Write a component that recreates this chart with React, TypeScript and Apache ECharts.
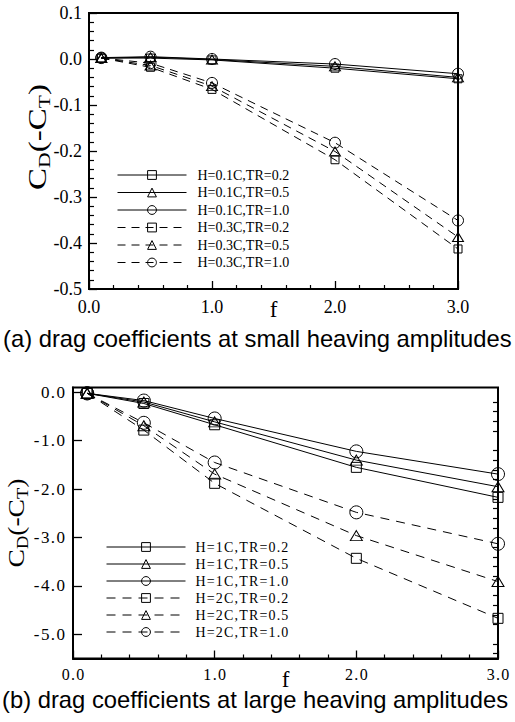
import React, { useEffect, useRef } from 'react';
import * as echarts from 'echarts';

// ---- data ----
const fValues = [0.1, 0.5, 1.0, 2.0, 3.0];

// (a) small heaving amplitudes
const namesA = ['H=0.1C,TR=0.2', 'H=0.1C,TR=0.5', 'H=0.1C,TR=1.0', 'H=0.3C,TR=0.2', 'H=0.3C,TR=0.5', 'H=0.3C,TR=1.0'];
const aH01TR02 = [0.002, 0.002, -0.002, -0.020, -0.043];
const aH01TR05 = [0.002, 0.004, -0.001, -0.016, -0.040];
const aH01TR10 = [0.003, 0.005, 0.000, -0.011, -0.032];
const aH03TR02 = [0.002, -0.018, -0.066, -0.219, -0.413];
const aH03TR05 = [0.002, -0.014, -0.059, -0.201, -0.387];
const aH03TR10 = [0.002, -0.009, -0.052, -0.182, -0.351];

// (b) large heaving amplitudes
const namesB = ['H=1C,TR=0.2', 'H=1C,TR=0.5', 'H=1C,TR=1.0', 'H=2C,TR=0.2', 'H=2C,TR=0.5', 'H=2C,TR=1.0'];
const bH1TR02 = [-0.02, -0.23, -0.67, -1.55, -2.17];
const bH1TR05 = [-0.02, -0.20, -0.61, -1.40, -1.95];
const bH1TR10 = [-0.02, -0.17, -0.54, -1.22, -1.69];
const bH2TR02 = [-0.02, -0.78, -1.88, -3.43, -4.67];
const bH2TR05 = [-0.02, -0.69, -1.69, -2.96, -3.91];
const bH2TR10 = [-0.02, -0.63, -1.45, -2.48, -3.13];

// tick labels
const yLabelsB = [0, -1, -2, -3, -4, -5];
const yMinorTicksB = [-0.2, -0.4, -0.6, -0.8, -1.2, -1.4, -1.6, -1.8, -2.2, -2.4, -2.6, -2.8, -3.2, -3.4, -3.6, -3.8, -4.2, -4.4, -4.6, -4.8, -5.2, -5.4];

const yNameParts = [['C', 'm'], ['D', 's'], ['(-C', 'm'], ['T', 's'], [')', 'm']];
const captionA = '(a) drag coefficients at small heaving amplitudes';
const captionB = '(b) drag coefficients at large heaving amplitudes';

const SERIF = 'Liberation Serif';
const SANS = 'Liberation Sans';
const HAIR = '\u200A';

function measure(text: string, fs: number, family: string): number {
  const c = document.createElement('canvas').getContext('2d');
  if (!c) return text.length * fs * 0.5;
  c.font = `${fs}px "${family}"`;
  return c.measureText(text).width;
}

function makeSeries(name: string, values: number[], idx: number, symbol: string, size: any, dash: number[] | null) {
  return {
    type: 'line',
    name,
    xAxisIndex: idx,
    yAxisIndex: idx,
    data: fValues.map((f, i) => [f, values[i]]),
    symbol,
    symbolSize: size,
    showAllSymbol: true,
    clip: false,
    lineStyle: { color: '#000', width: 1, type: dash ? dash : 'solid' },
    itemStyle: { color: 'rgba(0,0,0,0)', borderColor: '#000', borderWidth: 1 },
    emphasis: { disabled: true },
  };
}

function xAxisCfg(grid: number, fs: number, labelMargin: number, spaced: boolean) {
  return {
    type: 'value',
    gridIndex: grid,
    min: 0,
    max: 3,
    interval: 1,
    axisLine: { show: true, onZero: false, lineStyle: { color: '#000', width: 2 } },
    axisTick: { show: true, inside: true, length: 8, lineStyle: { color: '#000', width: 1.3 } },
    minorTick: { show: true, splitNumber: 5, length: 4, lineStyle: { color: '#000', width: 1.2 } },
    splitLine: { show: false },
    axisLabel: {
      show: true,
      color: '#000',
      fontFamily: SERIF,
      fontSize: fs,
      margin: labelMargin,
      formatter: (v: number) => (spaced ? v.toFixed(1).split('').join(HAIR) : v.toFixed(1)),
    },
    name: 'f',
    nameLocation: 'middle',
    nameGap: 9,
    nameMoveOverlap: false,
    nameTextStyle: { color: '#000', fontFamily: SERIF, fontSize: 23, verticalAlign: 'top' },
  };
}

function yName(x: number, y: number, fs: number, sub: number, sx: number) {
  const widths = yNameParts.map(([t, k]) => measure(t, k === 'm' ? fs : sub, SERIF));
  const total = widths.reduce((a, b) => a + b, 0);
  let cur = -total / 2;
  const children = yNameParts.map(([t, k], i) => {
    const size = k === 'm' ? fs : sub;
    const el = {
      type: 'text',
      x: cur,
      y: k === 'm' ? 0 : fs * 0.3375 - sub * 0.3375 + 4,
      style: { text: t, fontFamily: SERIF, fontSize: size, fill: '#000', align: 'left', verticalAlign: 'middle' },
    };
    cur += widths[i];
    return el;
  });
  return { type: 'group', x, y, rotation: Math.PI / 2, scaleX: sx, children };
}

export default function App() {
  const ref = useRef<HTMLDivElement>(null);
  useEffect(() => {
    if (!ref.current) return;
    const chart = echarts.init(ref.current, null, { renderer: 'svg' });
    const legendBase = {
      orient: 'vertical',
      padding: 0,
      selectedMode: false,
      itemHeight: 11,
      itemStyle: { borderWidth: 1, borderColor: '#000', color: 'rgba(0,0,0,0)' },
      lineStyle: { width: 1, color: '#000' },
    };
    const option: any = {
      animation: false,
      backgroundColor: '#fff',
      textStyle: { fontFamily: SERIF, color: '#000' },
      grid: [
        { left: 89, top: 13, width: 369, height: 276, show: true, borderColor: '#000', borderWidth: 2, backgroundColor: 'transparent' },
        { left: 73, top: 387.5, width: 425, height: 271, show: true, borderColor: '#000', borderWidth: 2, backgroundColor: 'transparent' },
      ],
      xAxis: [xAxisCfg(0, 18, 9, false), xAxisCfg(1, 16, 8, true)],
      yAxis: [
        {
          type: 'value',
          gridIndex: 0,
          min: -0.5,
          max: 0.1,
          interval: 0.1,
          axisLine: { show: true, onZero: false, lineStyle: { color: '#000', width: 2 } },
          axisTick: { show: true, inside: true, length: 8, lineStyle: { color: '#000', width: 1.3 } },
          minorTick: { show: true, splitNumber: 5, length: 5, lineStyle: { color: '#000', width: 1.2 } },
          splitLine: { show: false },
          axisLabel: { show: true, color: '#000', fontFamily: SERIF, fontSize: 18, margin: 7, formatter: (v: number) => v.toFixed(1) },
        },
        {
          type: 'value',
          gridIndex: 1,
          min: -5.5,
          max: 0.1,
          axisLine: { show: true, onZero: false, lineStyle: { color: '#000', width: 2 } },
          axisTick: { show: true, inside: true, length: 9, customValues: yLabelsB, lineStyle: { color: '#000', width: 1.3 } },
          splitLine: { show: false },
          axisLabel: {
            show: true,
            color: '#000',
            fontFamily: SERIF,
            fontSize: 17,
            margin: 8,
            customValues: yLabelsB,
            formatter: (v: number) => v.toFixed(1).split('').join(HAIR),
          },
        },
        {
          type: 'value',
          gridIndex: 1,
          min: -5.5,
          max: 0.1,
          axisLine: { show: false, onZero: false },
          axisTick: { show: true, inside: true, length: 5, customValues: yMinorTicksB, lineStyle: { color: '#000', width: 1.2 } },
          splitLine: { show: false },
          axisLabel: { show: false },
        },
      ],
      legend: [
        {
          ...legendBase,
          data: namesA,
          left: 117,
          top: 168,
          itemWidth: 69,
          itemGap: 3.5,
          textStyle: { fontFamily: SERIF, fontSize: 14, color: '#000', lineHeight: 14, padding: [0, 0, 0, 6] },
        },
        {
          ...legendBase,
          data: namesB,
          left: 106,
          top: 540,
          itemWidth: 79,
          itemGap: 3,
          formatter: (n: string) => n.split('').join(HAIR),
          textStyle: { fontFamily: SERIF, fontSize: 14, color: '#000', lineHeight: 14, padding: [0, 0, 0, 5] },
        },
      ],
      series: [
        makeSeries(namesA[0], aH01TR02, 0, 'rect', 8, null),
        makeSeries(namesA[1], aH01TR05, 0, 'triangle', [11, 9], null),
        makeSeries(namesA[2], aH01TR10, 0, 'circle', 11, null),
        makeSeries(namesA[3], aH03TR02, 0, 'rect', 8, [8, 6]),
        makeSeries(namesA[4], aH03TR05, 0, 'triangle', [11, 9], [8, 6]),
        makeSeries(namesA[5], aH03TR10, 0, 'circle', 11, [8, 6]),
        makeSeries(namesB[0], bH1TR02, 1, 'rect', 10, null),
        makeSeries(namesB[1], bH1TR05, 1, 'triangle', [12, 10], null),
        makeSeries(namesB[2], bH1TR10, 1, 'circle', 13, null),
        makeSeries(namesB[3], bH2TR02, 1, 'rect', 10, [9, 7]),
        makeSeries(namesB[4], bH2TR05, 1, 'triangle', [12, 10], [9, 7]),
        makeSeries(namesB[5], bH2TR10, 1, 'circle', 13, [9, 7]),
      ],
      graphic: [
        yName(37, 137, 26, 17, 1.27),
        yName(16, 523, 24, 16, 1.15),
        {
          type: 'text',
          x: 3,
          y: 339,
          scaleX: 1.035,
          style: { text: captionA, fontFamily: SANS, fontSize: 23, fill: '#000', align: 'left', verticalAlign: 'middle' },
        },
        {
          type: 'text',
          x: 2,
          y: 700,
          scaleX: 1.035,
          style: { text: captionB, fontFamily: SANS, fontSize: 23, fill: '#000', align: 'left', verticalAlign: 'middle' },
        },
      ],
    };
    chart.setOption(option);
    return () => chart.dispose();
  }, []);
  return (
    <div
      ref={ref}
      style={{ position: 'absolute', left: 0, top: 0, width: 515, height: 722, background: '#fff' }}
    />
  );
}
